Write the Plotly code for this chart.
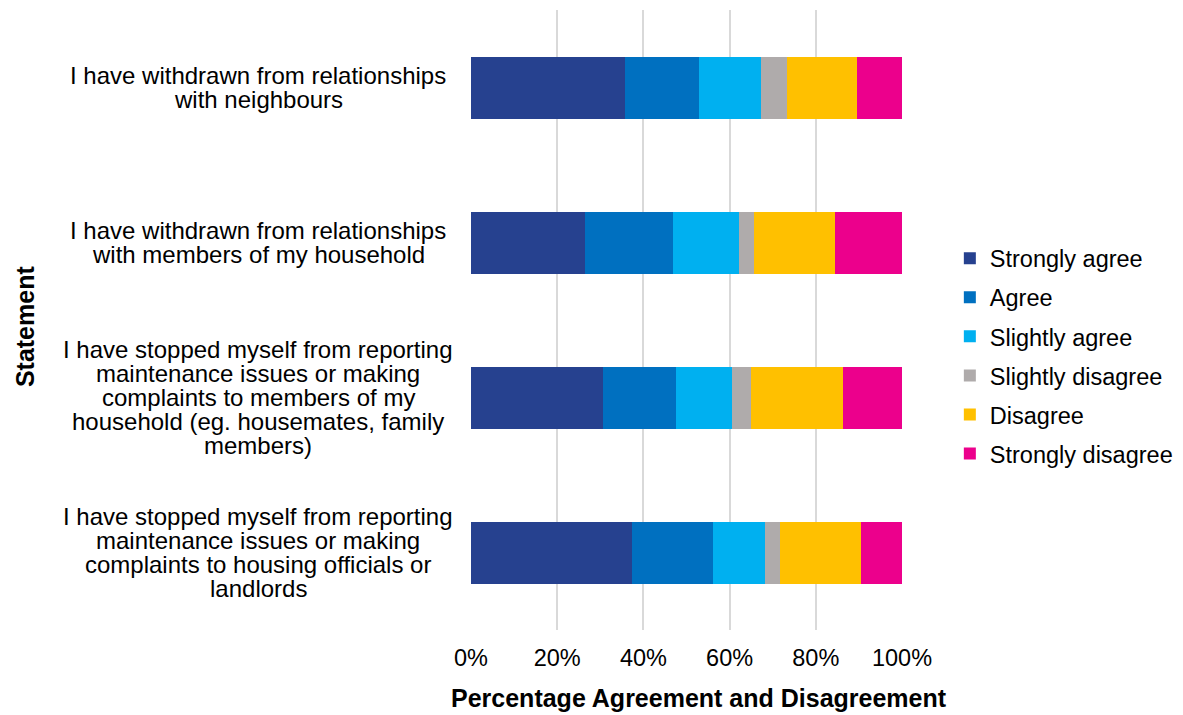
import plotly.graph_objects as go

# Categories (each as a list of displayed lines)
statements = [
    ["I have withdrawn from relationships", "with neighbours"],
    ["I have withdrawn from relationships", "with members of my household"],
    ["I have stopped myself from reporting", "maintenance issues or making",
     "complaints to members of my", "household (eg. housemates, family", "members)"],
    ["I have stopped myself from reporting", "maintenance issues or making",
     "complaints to housing officials or", "landlords"],
]
categories = [" ".join(s) for s in statements]

series_names = ["Strongly agree", "Agree", "Slightly agree",
                "Slightly disagree", "Disagree", "Strongly disagree"]

strongly_agree    = [35.8, 26.4, 30.6, 37.4]
agree             = [17.1, 20.4, 16.9, 18.7]
slightly_agree    = [14.4, 15.4, 13.0, 12.1]
slightly_disagree = [6.0, 3.4, 4.4, 3.5]
disagree          = [16.3, 18.9, 21.4, 18.7]
strongly_disagree = [10.4, 15.5, 13.7, 9.6]

series_values = [strongly_agree, agree, slightly_agree,
                 slightly_disagree, disagree, strongly_disagree]
colors = ["#26418F", "#0070C0", "#00B0F0", "#AFABAB", "#FFC000", "#EC008C"]

x_ticks = [0, 20, 40, 60, 80, 100]
x_tick_labels = ["0%", "20%", "40%", "60%", "80%", "100%"]

FONT = "Liberation Sans, Arial, Helvetica, sans-serif"

fig = go.Figure()
for i, (name, vals, col) in enumerate(zip(series_names, series_values, colors)):
    fig.add_trace(go.Bar(
        y=categories, x=vals, name=name, orientation="h",
        marker=dict(color=col, line=dict(width=0)),
        legendgroup=f"g{i}",
    ))

annotations = []
line_h = 23.8
for cat, lines in zip(categories, statements):
    n = len(lines)
    for j, ln in enumerate(lines):
        annotations.append(dict(
            text=ln, xref="paper", yref="y", x=-0.494, y=cat,
            xanchor="center", yanchor="middle", showarrow=False,
            yshift=-(j - (n - 1) / 2) * line_h,
            font=dict(family=FONT, size=24, color="#000000"),
        ))

annotations.append(dict(
    text="<b>Statement</b>", xref="paper", yref="paper",
    x=-1.035, y=0.49, xanchor="center", yanchor="middle",
    textangle=-90, showarrow=False,
    font=dict(family=FONT, size=25, color="#000000"),
))
annotations.append(dict(
    text="<b>Percentage Agreement and Disagreement</b>", xref="paper", yref="paper",
    x=0.53, y=-0.11, xanchor="center", yanchor="middle", showarrow=False,
    font=dict(family=FONT, size=25, color="#000000"),
))

fig.update_layout(
    barmode="stack",
    bargap=0.6,
    width=1183, height=715,
    margin=dict(l=463, r=289, t=2, b=93, pad=0, autoexpand=False),
    paper_bgcolor="white", plot_bgcolor="white",
    font=dict(family=FONT, size=24, color="#000000"),
    xaxis=dict(
        range=[0, 100], tickmode="array", tickvals=x_ticks, ticktext=x_tick_labels,
        showgrid=True, gridcolor="#D9D9D9", gridwidth=1.5,
        zeroline=False, showline=False, ticks="",
        tickfont=dict(family=FONT, size=23.5, color="#000000"),
        ticklabelstandoff=11,
        fixedrange=True,
    ),
    yaxis=dict(
        autorange="reversed", showticklabels=False, showgrid=False,
        zeroline=False, showline=False, ticks="",
    ),
    legend=dict(
        x=1.111, y=0.442, xanchor="left", yanchor="middle",
        traceorder="grouped", tracegroupgap=5.5,
        font=dict(family=FONT, size=23.5, color="#000000"),
        itemwidth=30,
    ),
    annotations=annotations,
    showlegend=True,
)

fig.write_html("out.html")
